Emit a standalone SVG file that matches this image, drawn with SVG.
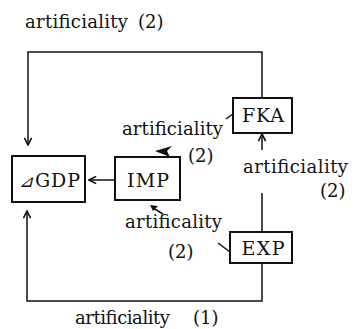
<svg xmlns="http://www.w3.org/2000/svg" width="354" height="329" viewBox="0 0 354 329">
<style>
text{font-family:'DejaVu Serif',serif;fill:#111}
.lbl{font-size:18px}
.nt{font-size:19px;text-anchor:middle}
.box{fill:#fff;stroke:#111;stroke-width:2}
.ln{fill:none;stroke:#111;stroke-width:1.5}
.arr{marker-end:url(#ah)}
</style>
<defs>
<marker id="ah" viewBox="0 0 10 10" refX="9" refY="5" markerWidth="9" markerHeight="9" markerUnits="userSpaceOnUse" orient="auto">
<path d="M1,1 L9,5 L1,9" fill="none" stroke="#111" stroke-width="1.8"/>
</marker>
</defs>
<rect width="354" height="329" fill="#fff"/>
<g id="connectors">
<path class="ln arr" d="M262,98 V52 H28 V145"/>
<path class="ln arr" d="M115,180 H89"/>
<path class="ln" d="M262,232 V193"/>
<path class="ln arr" d="M262,150 V134"/>
<path class="ln arr" d="M262,263 V301 H27 V211"/>
<path class="ln" d="M226,119 L233,114"/>
<path class="ln" d="M218,243 L230,252"/>
<polygon points="155,151 172,146 167,151 170,157" fill="#111"/>
<path class="ln" d="M163,214 L153,208" stroke-width="2"/>
<polygon points="150,205 158,206 153,211" fill="#111"/>
</g>
<g id="GDP">
<rect class="box" x="12" y="156" width="73" height="46"/>
<text x="19" y="187" font-size="19"><tspan font-style="italic" font-size="17">⊿</tspan><tspan x="35" textLength="45">GDP</tspan></text>
</g>
<g id="IMP">
<rect class="box" x="115" y="157" width="65" height="43"/>
<text class="nt" x="148" y="187" textLength="42">IMP</text>
</g>
<g id="FKA">
<rect class="box" x="233" y="98" width="59" height="35"/>
<text class="nt" x="263" y="122" textLength="42">FKA</text>
</g>
<g id="EXP">
<rect class="box" x="230" y="232" width="62" height="31"/>
<text class="nt" x="263" y="255" textLength="43">EXP</text>
</g>
<g id="labels">
<text class="lbl" y="28"><tspan x="25" textLength="103">artificiality</tspan><tspan x="138">(2)</tspan></text>
<text class="lbl" x="122" y="135" textLength="101">artificiality</text>
<text class="lbl" x="188" y="162">(2)</text>
<text class="lbl" x="243" y="173" textLength="105">artificiality</text>
<text class="lbl" x="320" y="197">(2)</text>
<text class="lbl" x="125" y="228" textLength="97">artificality</text>
<text class="lbl" x="168" y="258">(2)</text>
<text class="lbl" y="324"><tspan x="75" textLength="95">artificiality</tspan><tspan x="193">(1)</tspan></text>
</g>
</svg>
